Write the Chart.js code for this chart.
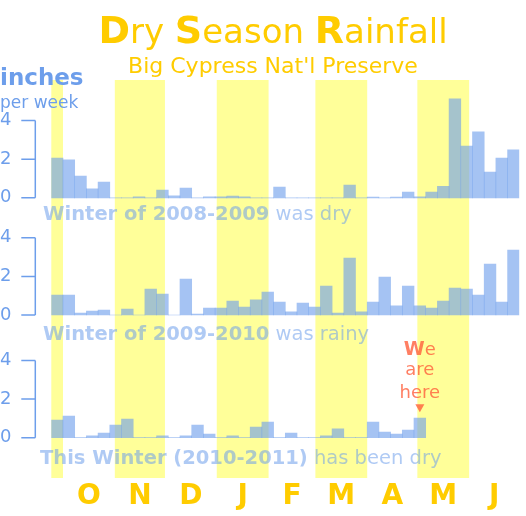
<!DOCTYPE html>
<html>
<head>
<meta charset="utf-8">
<script src="https://cdn.jsdelivr.net/npm/chart.js@4.4.0/dist/chart.umd.min.js"></script>
<style>
  html, body { margin: 0; padding: 0; background: #fff; overflow: hidden; }
  canvas { display: block; }
</style>
</head>
<body>
<canvas id="rainChart" width="526" height="516"></canvas>
<script>
// week starting dates (Sep 24 .. Jun 24)
const weeks = ['Sep 24','Oct 1','Oct 8','Oct 15','Oct 22','Oct 29','Nov 5','Nov 12','Nov 19','Nov 26',
    'Dec 3','Dec 10','Dec 17','Dec 24','Dec 31','Jan 7','Jan 14','Jan 21','Jan 28','Feb 4',
    'Feb 11','Feb 18','Feb 25','Mar 4','Mar 11','Mar 18','Mar 25','Apr 1','Apr 8','Apr 15',
    'Apr 22','Apr 29','May 6','May 13','May 20','May 27','Jun 3','Jun 10','Jun 17','Jun 24'];

// inches of rain per week
const rain0809 = [2.06, 1.96, 1.13, 0.47, 0.81, 0, 0, 0.05, 0, 0.40,
    0.10, 0.50, 0, 0.05, 0.05, 0.09, 0.05, 0, 0, 0.55,
    0, 0, 0, 0, 0, 0.66, 0, 0.04, 0, 0.04,
    0.30, 0.05, 0.30, 0.60, 5.13, 2.68, 3.41, 1.33, 2.06, 2.48];
const rain0910 = [1.03, 1.03, 0.10, 0.20, 0.26, 0, 0.31, 0, 1.34, 1.09,
    0, 1.86, 0.05, 0.36, 0.36, 0.72, 0.41, 0.78, 1.19, 0.67,
    0.16, 0.62, 0.41, 1.50, 0.10, 2.95, 0.16, 0.67, 1.97, 0.47,
    1.50, 0.47, 0.36, 0.72, 1.40, 1.34, 1.03, 2.64, 0.67, 3.36];
const rain1011 = [0.91, 1.12, 0, 0.09, 0.24, 0.65, 0.96, 0, 0, 0.09,
    0, 0.09, 0.65, 0.19, 0, 0.09, 0, 0.55, 0.81, 0,
    0.24, 0, 0, 0.09, 0.45, 0, 0, 0.81, 0.29, 0.19,
    0.39, 1.01, null, null, null, null, null, null, null, null];

// months covered by the chart (only the last week of September)
const months = ['Sep', 'Oct', 'Nov', 'Dec', 'Jan', 'Feb', 'Mar', 'Apr', 'May', 'Jun'];
const monthDays = [7, 31, 30, 31, 31, 28, 31, 30, 31, 30];
const monthLabels = ['', 'O', 'N', 'D', 'J', 'F', 'M', 'A', 'M', 'J'];
const shadedMonths = ['Sep', 'Nov', 'Jan', 'Mar', 'May'];
const yTicks = [0, 2, 4];
const captions = [
    ['Winter of 2008-2009', ' was dry'],
    ['Winter of 2009-2010', ' was rainy'],
    ['This Winter (2010-2011)', ' has been dry']
];

const FONT = '"DejaVu Sans", Verdana, sans-serif';
const BLUE = '#6d9eeb';
const BAR = 'rgba(109,158,235,0.62)';
const CAPTION = 'rgba(109,158,235,0.55)';
const GOLD = '#ffcc00';
const YELLOW = '#ffff99';
const HERE = 'rgba(255,95,60,0.8)';

// month edges in weeks from the first bar
const monthEdges = [];
let dayCount = 0;
monthDays.forEach(n => {
    monthEdges.push([dayCount / 7, (dayCount + n) / 7]);
    dayCount += n;
});
const hereIdx = rain1011.findLastIndex(v => v !== null);

function panelAxis(min, max, order) {
    return {
        type: 'linear',
        position: 'left',
        stack: 'rows',
        stackWeight: max - min,
        weight: order,
        min: min,
        max: max,
        grid: { display: false, drawTicks: false },
        border: { display: false },
        afterBuildTicks: s => { s.ticks = yTicks.map(v => ({ value: v })); },
        afterFit: s => { s.width = 51.3; },
        ticks: { color: BLUE, font: { family: FONT, size: 18 }, padding: 3, crossAlign: 'far' }
    };
}

function drawRuns(ctx, runs, x, y, center) {
    let total = 0;
    runs.forEach(r => { ctx.font = r[1]; total += ctx.measureText(r[0]).width; });
    let cx = center ? x - total / 2 : x;
    ctx.textAlign = 'left';
    ctx.textBaseline = 'alphabetic';
    runs.forEach(r => {
        ctx.font = r[1];
        ctx.fillStyle = r[2];
        ctx.fillText(r[0], cx, y);
        cx += ctx.measureText(r[0]).width;
    });
}

const bandsPlugin = {
    id: 'bands',
    beforeDatasetsDraw(chart) {
        const ctx = chart.ctx;
        const xs = chart.scales.xm;
        const { top, bottom } = chart.chartArea;
        ctx.save();
        ctx.fillStyle = YELLOW;
        monthEdges.forEach((e, i) => {
            if (!shadedMonths.includes(months[i])) return;
            const x0 = xs.getPixelForValue(e[0] - 0.5);
            const x1 = xs.getPixelForValue(e[1] - 0.5);
            ctx.fillRect(x0, top, x1 - x0, bottom - top);
        });
        ctx.restore();
    }
};

const captionY = [22, 25, 26];
const captionX = [43, 43, 40];

const textPlugin = {
    id: 'texts',
    afterDraw(chart) {
        const ctx = chart.ctx;
        ctx.save();

        // y axis brackets
        ctx.strokeStyle = BLUE;
        ctx.lineWidth = 1.5;
        ['y1', 'y2', 'y3'].forEach(id => {
            const s = chart.scales[id];
            const x = s.right - 16;
            ctx.beginPath();
            ctx.moveTo(x, s.getPixelForValue(yTicks[0]));
            ctx.lineTo(x, s.getPixelForValue(yTicks[yTicks.length - 1]));
            yTicks.forEach(v => {
                const y = s.getPixelForValue(v);
                ctx.moveTo(x - 14, y);
                ctx.lineTo(x, y);
            });
            ctx.stroke();
        });

        // title
        const big = 'bold 38px ' + FONT, reg = '34px ' + FONT;
        drawRuns(ctx, [['D', big, GOLD], ['ry ', reg, GOLD], ['S', big, GOLD],
            ['eason ', reg, GOLD], ['R', big, GOLD], ['ainfall', reg, GOLD]], 273, 43, true);
        drawRuns(ctx, [["Big Cypress Nat'l Preserve", '22px ' + FONT, GOLD]], 273, 73, true);

        // units
        drawRuns(ctx, [['inches', 'bold 23px ' + FONT, BLUE]], 0, 85, false);
        drawRuns(ctx, [['per week', '17px ' + FONT, BLUE]], 0, 108, false);

        // captions under each panel
        ['y1', 'y2', 'y3'].forEach((id, i) => {
            const y = chart.scales[id].getPixelForValue(0) + captionY[i];
            drawRuns(ctx, [[captions[i][0], 'bold 19.5px ' + FONT, CAPTION],
                [captions[i][1], '19.5px ' + FONT, CAPTION]], captionX[i], y, false);
        });

        // "We are here"
        const hx = chart.scales.x.getPixelForValue(hereIdx);
        const ht = chart.scales.y3.getPixelForValue(rain1011[hereIdx]);
        drawRuns(ctx, [['W', 'bold 19px ' + FONT, HERE], ['e', '18px ' + FONT, HERE]], hx, ht - 63, true);
        drawRuns(ctx, [['are', '18px ' + FONT, HERE]], hx, ht - 43, true);
        drawRuns(ctx, [['here', '18px ' + FONT, HERE]], hx, ht - 20, true);
        ctx.fillStyle = HERE;
        ctx.beginPath();
        ctx.moveTo(hx - 4.5, ht - 14);
        ctx.lineTo(hx + 4.5, ht - 14);
        ctx.lineTo(hx, ht - 6);
        ctx.closePath();
        ctx.fill();

        ctx.restore();
    }
};

function barSet(data, axis) {
    return {
        data: data,
        yAxisID: axis,
        xAxisID: 'x',
        backgroundColor: BAR,
        borderWidth: 0,
        grouped: false,
        barPercentage: 1,
        categoryPercentage: 1
    };
}

new Chart(document.getElementById('rainChart'), {
    type: 'bar',
    data: {
        labels: weeks,
        datasets: [barSet(rain0809, 'y1'), barSet(rain0910, 'y2'), barSet(rain1011, 'y3')]
    },
    options: {
        responsive: false,
        animation: false,
        events: [],
        layout: { padding: { top: 80, right: 6.7, left: 0, bottom: 0 } },
        plugins: { legend: { display: false }, tooltip: { enabled: false } },
        scales: {
            x: { display: false },
            xm: {
                type: 'linear',
                position: 'bottom',
                offset: false,
                min: -0.5,
                max: weeks.length - 0.5,
                grid: { display: false, offset: false, drawTicks: false },
                border: { display: false },
                afterBuildTicks: s => {
                    s.ticks = monthEdges.map(e => ({ value: (e[0] + e[1]) / 2 - 0.5 }));
                },
                afterFit: s => { s.height = 38; },
                ticks: {
                    autoSkip: false,
                    maxRotation: 0,
                    padding: 2,
                    color: GOLD,
                    font: { family: FONT, size: 28, weight: 'bold' },
                    callback: (v, i) => monthLabels[i]
                }
            },
            y1: panelAxis(-1.41, 6.10, 3),
            y2: panelAxis(-1.55, 4.66, 2),
            y3: panelAxis(-2.09, 4.80, 1)
        }
    },
    plugins: [bandsPlugin, textPlugin]
});
</script>
</body>
</html>
